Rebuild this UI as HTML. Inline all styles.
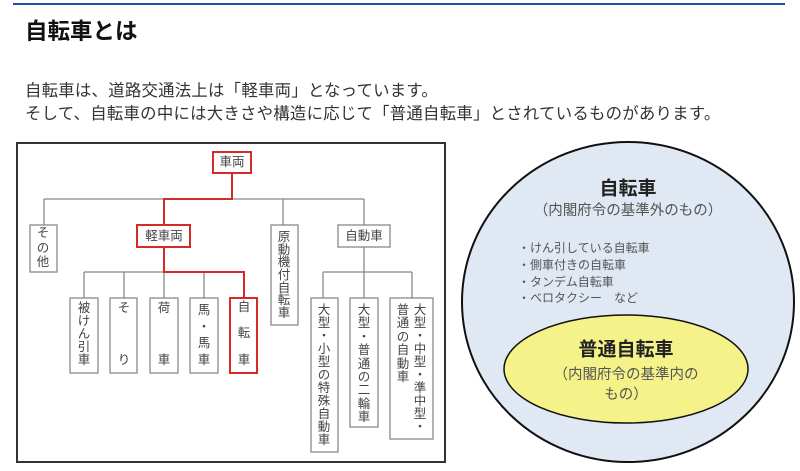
<!DOCTYPE html>
<html><head><meta charset="utf-8"><style>
body{margin:0;width:800px;height:471px;background:#fff;position:relative;overflow:hidden;font-family:"Liberation Sans","Noto Sans CJK JP",sans-serif;color:#222}
.bl{position:absolute;left:13px;top:3px;width:772px;height:2px;background:#1f4fa0}
h1{position:absolute;left:25px;top:14px;margin:0;font-size:22.5px;font-weight:bold;color:#111}
p{position:absolute;left:25px;margin:0;font-size:16.4px;letter-spacing:0.25px;line-height:23px;color:#333;white-space:nowrap}
svg{position:absolute;left:0;top:0}
</style></head><body>
<div class="bl"></div>
<h1>自転車とは</h1>
<p style="top:80px">自転車は、道路交通法上は「軽車両」となっています。<br>そして、自転車の中には大きさや構造に応じて「普通自転車」とされているものがあります。</p>
<svg width="800" height="471" font-family="Liberation Sans, Noto Sans CJK JP, sans-serif">
<rect x="17" y="143" width="428" height="319" fill="#fff" stroke="#333" stroke-width="2"/>
<g stroke="#888" stroke-width="1.3" fill="none">
<path d="M44 199H364M44 199V225M283 199V225M364 199V225"/>
<path d="M84 272H204M84 272V298M124 272V298M164 272V298M204 272V298"/>
<path d="M364 247V298M323 272H412M323 272V298M412 272V298"/>
<rect x="30" y="225" width="27" height="47"/>
<rect x="271" y="225" width="27" height="100"/>
<rect x="338" y="225" width="52" height="22"/>
<rect x="70" y="298" width="28" height="75"/>
<rect x="110" y="298" width="27" height="75"/>
<rect x="150" y="298" width="28" height="75"/>
<rect x="190" y="298" width="28" height="75"/>
<rect x="311" y="298" width="27" height="154"/>
<rect x="350" y="298" width="28" height="129"/>
<rect x="390" y="298" width="43" height="141"/>
</g>
<g stroke="#d42a2a" stroke-width="2" fill="none">
<path d="M232 173V199H164V225M164 247V272H244V298"/>
<rect x="213" y="152" width="38" height="21" fill="#fff"/>
<rect x="137" y="225" width="53" height="22" fill="#fff"/>
<rect x="230" y="298" width="27" height="75" fill="#fff"/>
</g>
<g font-size="12.5" fill="#444" text-anchor="middle" dominant-baseline="central">
<text x="232" y="162">車両</text>
<text x="164" y="236">軽車両</text>
<text x="364" y="236">自動車</text>
<text x="43" y="233">そ</text><text x="43" y="248">の</text><text x="43" y="262">他</text>
<text x="84" y="308">被</text><text x="84" y="321">け</text><text x="84" y="334">ん</text><text x="84" y="347">引</text><text x="84" y="360">車</text>
<text x="124" y="308">そ</text><text x="124" y="360">り</text>
<text x="164" y="308">荷</text><text x="164" y="360">車</text>
<text x="204" y="310">馬</text><text x="204" y="327">・</text><text x="204" y="343">馬</text><text x="204" y="360">車</text>
<text x="244" y="307">自</text><text x="244" y="333">転</text><text x="244" y="360">車</text>
<text x="284" y="237">原</text><text x="284" y="250">動</text><text x="284" y="262">機</text><text x="284" y="275">付</text><text x="284" y="288">自</text><text x="284" y="300">転</text><text x="284" y="313">車</text>
<text x="324" y="310">大</text><text x="324" y="323">型</text><text x="324" y="336">・</text><text x="324" y="349">小</text><text x="324" y="362">型</text><text x="324" y="375">の</text><text x="324" y="388">特</text><text x="324" y="401">殊</text><text x="324" y="414">自</text><text x="324" y="427">動</text><text x="324" y="440">車</text>
<text x="364" y="310">大</text><text x="364" y="323">型</text><text x="364" y="337">・</text><text x="364" y="350">普</text><text x="364" y="364">通</text><text x="364" y="377">の</text><text x="364" y="390">二</text><text x="364" y="404">輪</text><text x="364" y="417">車</text>
<text x="420" y="310">大</text><text x="420" y="323">型</text><text x="420" y="336">・</text><text x="420" y="349">中</text><text x="420" y="362">型</text><text x="420" y="375">・</text><text x="420" y="388">準</text><text x="420" y="401">中</text><text x="420" y="414">型</text><text x="420" y="427">・</text>
<text x="403" y="310">普</text><text x="403" y="323">通</text><text x="403" y="337">の</text><text x="403" y="350">自</text><text x="403" y="364">動</text><text x="403" y="377">車</text>
</g>
<ellipse cx="628" cy="302" rx="166" ry="160" fill="#dfe8f3" stroke="#111" stroke-width="2"/>
<ellipse cx="626" cy="369" rx="122" ry="54" fill="#f6f28a" stroke="#111" stroke-width="1.5"/>
<g text-anchor="middle" dominant-baseline="central">
<text x="628" y="189" font-size="19" font-weight="bold" fill="#222">自転車</text>
<text x="628" y="211" font-size="14.5" fill="#555">（内閣府令の基準外のもの）</text>
<text x="626" y="350" font-size="19" font-weight="bold" fill="#222">普通自転車</text>
<text x="626" y="375" font-size="14.5" fill="#555">（内閣府令の基準内の</text>
<text x="626" y="395" font-size="14.5" fill="#555">もの）</text>
</g>
<g font-size="12" fill="#555" dominant-baseline="central">
<text x="518" y="248">・けん引している自転車</text>
<text x="518" y="265">・側車付きの自転車</text>
<text x="518" y="282">・タンデム自転車</text>
<text x="518" y="298">・ベロタクシー　など</text>
</g>
</svg>
</body></html>
